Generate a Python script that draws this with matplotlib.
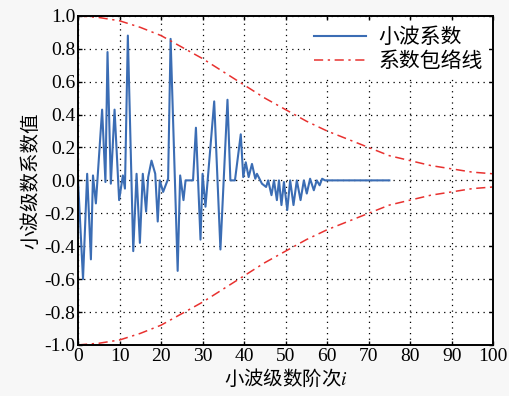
"""Wavelet coefficients with their envelope"""

import matplotlib

matplotlib.use("Agg")
import matplotlib.pyplot as plt
from matplotlib.ticker import FormatStrFormatter

# Wavelet coefficients (x in order units)
coef_x = [
    0.0, 1.2, 2.2, 3.1, 3.6, 4.3, 5.8, 6.6, 7.1, 7.9, 8.8, 9.9, 10.8, 11.3,
    12.0, 13.3, 14.1, 14.9, 15.6, 16.4, 16.9, 17.7, 18.6, 19.2, 19.7, 20.5,
    21.7, 22.3, 24.0, 24.6, 25.4, 25.9, 27.7, 28.4, 29.5, 30.0, 30.7, 32.8,
    34.3, 36.0, 36.7, 37.8, 39.2, 39.8, 40.4, 41.1, 41.9, 42.7, 43.1, 44.3,
    45.3, 45.8, 46.6, 47.2, 47.9, 48.4, 49.0, 49.6, 50.4, 51.1, 51.9, 52.7,
    53.6, 54.4, 55.1, 55.9, 56.8, 57.5, 58.2, 58.8, 59.5, 60.5, 75.0,
]
coef_y = [
    0.00, -0.60, 0.04, -0.48, 0.03, -0.14, 0.43, -0.01, 0.78, -0.02, 0.43,
    -0.12, 0.03, -0.05, 0.88, -0.43, 0.04, -0.38, 0.04, -0.19, 0.02, 0.12,
    0.04, -0.25, 0.00, -0.07, 0.01, 0.86, -0.55, 0.03, -0.12, 0.00, 0.00,
    0.32, -0.36, 0.04, -0.16, 0.48, -0.42, 0.49, 0.00, 0.00, 0.28, 0.02,
    0.11, 0.02, 0.10, 0.01, 0.04, -0.02, -0.04, 0.00, -0.09, 0.00, -0.12,
    0.00, -0.15, -0.01, -0.18, 0.00, -0.15, 0.00, -0.12, 0.00, -0.08, 0.01,
    -0.06, 0.00, -0.03, 0.01, 0.00, 0.00, 0.00,
]

# Envelope (upper half; lower half is its mirror)
env_x = [0, 5, 10, 15, 20, 25, 30, 35, 40, 45, 50, 55, 60, 65, 70, 75, 80,
         85, 90, 95, 100]
env_y = [1.00, 0.99, 0.97, 0.93, 0.88, 0.81, 0.74, 0.66, 0.58, 0.50, 0.43,
         0.36, 0.30, 0.25, 0.20, 0.15, 0.12, 0.09, 0.07, 0.05, 0.04]

x_ticks = [0, 10, 20, 30, 40, 50, 60, 70, 80, 90, 100]
y_ticks = [-1.0, -0.8, -0.6, -0.4, -0.2, 0.0, 0.2, 0.4, 0.6, 0.8, 1.0]

plt.rcParams["font.family"] = ["Liberation Serif", "Noto Sans CJK SC"]
plt.rcParams["mathtext.fontset"] = "stix"
plt.rcParams["axes.unicode_minus"] = True

fig = plt.figure(figsize=(5.1, 3.96), dpi=100, facecolor="#f7f7f7")
ax = fig.add_axes([0.153, 0.129, 0.814, 0.831])

blue = "#3b6db4"
red = "#e8312f"

ax.plot(coef_x, coef_y, color=blue, linewidth=1.5, label="小波系数")
ax.plot(env_x, env_y, color=red, linewidth=1.1, linestyle=(0, (6, 3, 1.5, 3)),
        label="系数包络线")
ax.plot(env_x, [-v for v in env_y], color=red, linewidth=1.1,
        linestyle=(0, (6, 3, 1.5, 3)))

ax.set_xlim(0, 100)
ax.set_ylim(-1.0, 1.0)
ax.set_xticks(x_ticks)
ax.set_yticks(y_ticks)
ax.yaxis.set_major_formatter(FormatStrFormatter("%.1f"))
ax.tick_params(direction="in", top=True, right=True, labelsize=14,
               length=3, width=1, pad=2)
for sp in ax.spines.values():
    sp.set_linewidth(1.4)

ax.grid(True, color="black", linestyle=(0, (1, 3.5)), linewidth=0.9)

ax.set_xlabel("小波级数阶次$i$", fontsize=14,
              family=["Noto Sans CJK SC", "DejaVu Sans"], labelpad=2)
ax.set_ylabel("小波级数系数值", fontsize=14,
              family=["Noto Sans CJK SC", "DejaVu Sans"], labelpad=2)

leg = ax.legend(loc="upper right", frameon=True,
                handlelength=2.5, borderpad=0.2, labelspacing=0.1,
                handletextpad=0.6, borderaxespad=0.3,
                prop={"family": ["Noto Sans CJK SC"], "size": 15})
leg.get_frame().set_edgecolor("none")
leg.get_frame().set_facecolor("white")
leg.get_frame().set_alpha(1.0)

fig.savefig("out.png", dpi=100, facecolor=fig.get_facecolor())
